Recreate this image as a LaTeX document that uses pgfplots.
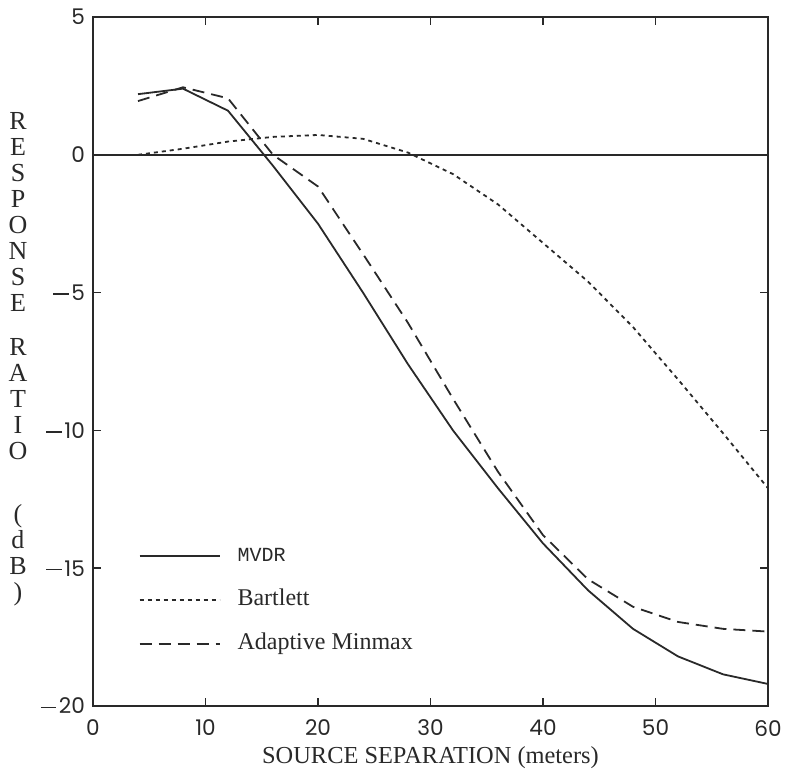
\documentclass[border=0pt]{standalone}
\usepackage{fontspec}
\setmainfont{Liberation Serif}
\setmonofont{Liberation Mono}
\newfontfamily\tickfont{Poppins}
\usepackage{pgfplots}
\usepackage{pgfplotstable}
\pgfplotsset{compat=1.18}
\definecolor{ink}{gray}{0.16}
\newcommand\mn{\rule[0.27em]{0.72em}{0.075em}\hspace{0.12em}}

\pgfplotstableread{
x y
4 2.2
8 2.4
12 1.6
16 -0.4
20 -2.5
24 -5.0
28 -7.6
32 -10.0
36 -12.1
40 -14.1
44 -15.8
48 -17.2
52 -18.2
56 -18.85
60 -19.2
}\mvdr

\pgfplotstableread{
x y
4 0.0
8 0.22
12 0.48
16 0.65
20 0.72
24 0.58
28 0.08
32 -0.7
36 -1.8
40 -3.2
44 -4.6
48 -6.25
52 -8.15
56 -10.1
60 -12.1
}\bartlett

\pgfplotstableread{
x y
4 1.95
8 2.45
12 2.05
16 0.0
20 -1.15
24 -3.6
28 -6.1
32 -8.85
36 -11.5
40 -13.8
44 -15.4
48 -16.4
52 -16.95
56 -17.2
60 -17.3
}\adaptive

\begin{document}
\begin{tikzpicture}
\useasboundingbox (-46.5pt,-33pt) rectangle (346pt,353pt);
\begin{axis}[
  scale only axis,
  clip=false,
  width=337.5pt, height=344.5pt,
  xmin=0, xmax=60, ymin=-20, ymax=5,
  xtick={0,10,...,60},
  ytick={-20,-15,...,5},
  yticklabels={\mn20,\mn15,\mn10,\mn5,0,5},
  tick align=inside,
  major tick length=4pt,
  axis line style={line width=0.9pt, ink},
  every tick/.style={line width=0.8pt, ink},
  tick label style={font=\tickfont\fontsize{10.8}{12}\selectfont, text=ink},
  /pgf/number format/assume math mode=true,
  xticklabel style={yshift=-3.5pt},
  yticklabel style={xshift=-0.5pt},
  xlabel={SOURCE SEPARATION (meters)},
  xlabel style={at={(axis description cs:0.5,0)}, anchor=base, yshift=-28.5pt, font=\fontsize{12.2}{14}\selectfont, text=ink},
  legend style={draw=none, fill=none, at={(axis cs:3.5,-14.0)}, anchor=north west,
    font=\fontsize{12}{14}\selectfont, text=ink,
    nodes={text height=8pt, text depth=3pt, inner sep=0pt},
    row sep=11pt},
  legend cell align=left,
  legend image code/.code={\draw[#1] (0pt,0pt) -- (40pt,0pt); \path (48.5pt,0pt);},
]
\addplot[ink, line width=0.9pt] table {\mvdr};
\addlegendentry{{\ttfamily\fontsize{10}{12}\selectfont MVDR}}
\addplot[ink, line width=0.9pt, dash pattern=on 2pt off 2pt] table {\bartlett};
\addlegendentry{Bartlett}
\addplot[ink, line width=0.9pt, dash pattern=on 6pt off 3.5pt] table {\adaptive};
\addlegendentry{Adaptive Minmax}
\addplot[ink, line width=0.9pt, forget plot] coordinates {(0,0) (60,0)};
\node[inner sep=0pt, anchor=north, align=center, text=ink, xshift=-37.5pt,
      font=\fontsize{13}{13}\selectfont]
  at (rel axis cs:0,0.862)
  {R\\E\\S\\P\\O\\N\\S\\E\\[9pt]R\\A\\T\\I\\O\\[18.5pt](\\d\\B\\)};
\end{axis}
\end{tikzpicture}
\end{document}
